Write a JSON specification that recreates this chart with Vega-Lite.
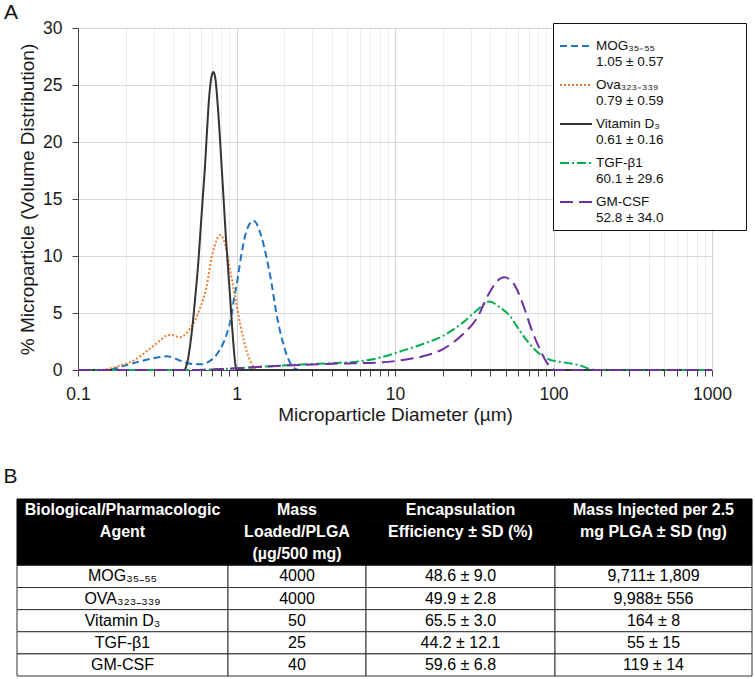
{
  "$schema": "https://vega.github.io/schema/vega-lite/v6.json",
  "padding": {"left": 3, "top": 2, "right": 2, "bottom": 2},
  "background": "white",
  "config": {
    "font": "Liberation Sans",
    "view": {"stroke": null},
    "title": {"font": "Liberation Sans", "fontWeight": "normal", "fontSize": 21, "color": "#111111"}
  },
  "datasets": {
    "psd": [
      {"agent": "MOG", "d": 0.1, "v": 0}, {"agent": "MOG", "d": 0.15, "v": 0}, {"agent": "MOG", "d": 0.17, "v": 0.12},
      {"agent": "MOG", "d": 0.19, "v": 0.32}, {"agent": "MOG", "d": 0.233, "v": 0.67}, {"agent": "MOG", "d": 0.283, "v": 0.96},
      {"agent": "MOG", "d": 0.33, "v": 1.15}, {"agent": "MOG", "d": 0.36, "v": 1.2}, {"agent": "MOG", "d": 0.4, "v": 1.08},
      {"agent": "MOG", "d": 0.44, "v": 0.82}, {"agent": "MOG", "d": 0.53, "v": 0.53}, {"agent": "MOG", "d": 0.6, "v": 0.5},
      {"agent": "MOG", "d": 0.68, "v": 0.8}, {"agent": "MOG", "d": 0.78, "v": 1.7}, {"agent": "MOG", "d": 0.86, "v": 3.0},
      {"agent": "MOG", "d": 0.93, "v": 4.8}, {"agent": "MOG", "d": 0.97, "v": 6.5}, {"agent": "MOG", "d": 1.0, "v": 7.4},
      {"agent": "MOG", "d": 1.07, "v": 10.0}, {"agent": "MOG", "d": 1.15, "v": 12.1}, {"agent": "MOG", "d": 1.28, "v": 13.1},
      {"agent": "MOG", "d": 1.43, "v": 11.8}, {"agent": "MOG", "d": 1.54, "v": 10.0}, {"agent": "MOG", "d": 1.66, "v": 7.7},
      {"agent": "MOG", "d": 1.78, "v": 5.06}, {"agent": "MOG", "d": 1.96, "v": 2.43}, {"agent": "MOG", "d": 2.17, "v": 0.68},
      {"agent": "MOG", "d": 2.35, "v": 0.1}, {"agent": "MOG", "d": 2.5, "v": 0}, {"agent": "MOG", "d": 1000, "v": 0},

      {"agent": "Ova", "d": 0.1, "v": 0}, {"agent": "Ova", "d": 0.14, "v": 0}, {"agent": "Ova", "d": 0.155, "v": 0.1},
      {"agent": "Ova", "d": 0.18, "v": 0.35}, {"agent": "Ova", "d": 0.222, "v": 0.8}, {"agent": "Ova", "d": 0.283, "v": 1.84},
      {"agent": "Ova", "d": 0.33, "v": 2.6}, {"agent": "Ova", "d": 0.36, "v": 3.0}, {"agent": "Ova", "d": 0.39, "v": 3.07},
      {"agent": "Ova", "d": 0.44, "v": 2.87}, {"agent": "Ova", "d": 0.507, "v": 3.6}, {"agent": "Ova", "d": 0.55, "v": 4.4},
      {"agent": "Ova", "d": 0.586, "v": 5.35}, {"agent": "Ova", "d": 0.645, "v": 7.2}, {"agent": "Ova", "d": 0.7, "v": 10.0},
      {"agent": "Ova", "d": 0.75, "v": 11.4}, {"agent": "Ova", "d": 0.79, "v": 11.85}, {"agent": "Ova", "d": 0.853, "v": 10.9},
      {"agent": "Ova", "d": 0.917, "v": 8.57}, {"agent": "Ova", "d": 0.986, "v": 6.23}, {"agent": "Ova", "d": 1.06, "v": 3.89},
      {"agent": "Ova", "d": 1.166, "v": 1.55}, {"agent": "Ova", "d": 1.284, "v": 0.23}, {"agent": "Ova", "d": 1.32, "v": 0},
      {"agent": "Ova", "d": 1000, "v": 0},

      {"agent": "VitD", "d": 0.1, "v": 0}, {"agent": "VitD", "d": 0.467, "v": 0}, {"agent": "VitD", "d": 0.483, "v": 0.38},
      {"agent": "VitD", "d": 0.522, "v": 3.31}, {"agent": "VitD", "d": 0.548, "v": 6.24}, {"agent": "VitD", "d": 0.572, "v": 9.16},
      {"agent": "VitD", "d": 0.592, "v": 12.09}, {"agent": "VitD", "d": 0.612, "v": 15.01}, {"agent": "VitD", "d": 0.633, "v": 17.94},
      {"agent": "VitD", "d": 0.651, "v": 20.87}, {"agent": "VitD", "d": 0.671, "v": 23.79}, {"agent": "VitD", "d": 0.693, "v": 25.6},
      {"agent": "VitD", "d": 0.714, "v": 26.13}, {"agent": "VitD", "d": 0.735, "v": 25.6}, {"agent": "VitD", "d": 0.756, "v": 23.79},
      {"agent": "VitD", "d": 0.782, "v": 20.87}, {"agent": "VitD", "d": 0.805, "v": 17.94}, {"agent": "VitD", "d": 0.829, "v": 15.01},
      {"agent": "VitD", "d": 0.853, "v": 12.09}, {"agent": "VitD", "d": 0.882, "v": 9.16}, {"agent": "VitD", "d": 0.913, "v": 6.24},
      {"agent": "VitD", "d": 0.944, "v": 3.31}, {"agent": "VitD", "d": 0.986, "v": 0.38}, {"agent": "VitD", "d": 1.0, "v": 0},
      {"agent": "VitD", "d": 1000, "v": 0},

      {"agent": "TGF", "d": 0.1, "v": 0}, {"agent": "TGF", "d": 0.5, "v": 0}, {"agent": "TGF", "d": 0.7, "v": 0.05},
      {"agent": "TGF", "d": 1.0, "v": 0.15}, {"agent": "TGF", "d": 1.5, "v": 0.3}, {"agent": "TGF", "d": 2.06, "v": 0.42},
      {"agent": "TGF", "d": 3.0, "v": 0.52}, {"agent": "TGF", "d": 4.06, "v": 0.6}, {"agent": "TGF", "d": 6.0, "v": 0.76},
      {"agent": "TGF", "d": 8.4, "v": 1.15}, {"agent": "TGF", "d": 11.2, "v": 1.7}, {"agent": "TGF", "d": 15.0, "v": 2.28},
      {"agent": "TGF", "d": 20.1, "v": 3.0}, {"agent": "TGF", "d": 26.9, "v": 4.18}, {"agent": "TGF", "d": 32.6, "v": 5.2},
      {"agent": "TGF", "d": 39.5, "v": 6.0}, {"agent": "TGF", "d": 45.7, "v": 5.5}, {"agent": "TGF", "d": 52.9, "v": 4.77},
      {"agent": "TGF", "d": 61.2, "v": 3.45}, {"agent": "TGF", "d": 70.8, "v": 2.28}, {"agent": "TGF", "d": 81.9, "v": 1.4},
      {"agent": "TGF", "d": 94.6, "v": 0.9}, {"agent": "TGF", "d": 109, "v": 0.73}, {"agent": "TGF", "d": 133, "v": 0.53},
      {"agent": "TGF", "d": 153, "v": 0.32}, {"agent": "TGF", "d": 169, "v": 0.09}, {"agent": "TGF", "d": 185, "v": 0},
      {"agent": "TGF", "d": 1000, "v": 0},

      {"agent": "GM", "d": 0.1, "v": 0}, {"agent": "GM", "d": 0.5, "v": 0}, {"agent": "GM", "d": 0.7, "v": 0.05},
      {"agent": "GM", "d": 1.0, "v": 0.15}, {"agent": "GM", "d": 1.5, "v": 0.3}, {"agent": "GM", "d": 2.06, "v": 0.4},
      {"agent": "GM", "d": 3.0, "v": 0.48}, {"agent": "GM", "d": 4.06, "v": 0.55}, {"agent": "GM", "d": 6.0, "v": 0.6},
      {"agent": "GM", "d": 8.4, "v": 0.67}, {"agent": "GM", "d": 11.2, "v": 0.88}, {"agent": "GM", "d": 15.0, "v": 1.2},
      {"agent": "GM", "d": 20.1, "v": 1.84}, {"agent": "GM", "d": 26.9, "v": 3.16}, {"agent": "GM", "d": 32.6, "v": 4.47},
      {"agent": "GM", "d": 39.5, "v": 6.8}, {"agent": "GM", "d": 44.4, "v": 7.84}, {"agent": "GM", "d": 48.8, "v": 8.13},
      {"agent": "GM", "d": 55.3, "v": 7.7}, {"agent": "GM", "d": 64.0, "v": 5.8}, {"agent": "GM", "d": 72.5, "v": 3.6},
      {"agent": "GM", "d": 81.9, "v": 1.84}, {"agent": "GM", "d": 90.5, "v": 0.67}, {"agent": "GM", "d": 94.6, "v": 0.32},
      {"agent": "GM", "d": 99.6, "v": 0.05}, {"agent": "GM", "d": 105, "v": 0}, {"agent": "GM", "d": 1000, "v": 0}
    ],
    "tbl": [
      {"row": "h1", "part": "h", "c1": "Biological/Pharmacologic", "c2": "Mass", "c3": "Encapsulation", "c4": "Mass Injected per 2.5"},
      {"row": "h2", "part": "h", "c1": "Agent", "c2": "Loaded/PLGA", "c3": "Efficiency ± SD (%)", "c4": "mg PLGA ± SD (ng)"},
      {"row": "h3", "part": "h", "c1": "", "c2": "(µg/500 mg)", "c3": "", "c4": ""},
      {"row": "r1", "part": "b", "c1": "MOG₃₅₋₅₅", "c2": "4000", "c3": "48.6 ± 9.0", "c4": "9,711± 1,809"},
      {"row": "r2", "part": "b", "c1": "OVA₃₂₃₋₃₃₉", "c2": "4000", "c3": "49.9 ± 2.8", "c4": "9,988± 556"},
      {"row": "r3", "part": "b", "c1": "Vitamin D₃", "c2": "50", "c3": "65.5 ± 3.0", "c4": "164 ± 8"},
      {"row": "r4", "part": "b", "c1": "TGF-β1", "c2": "25", "c3": "44.2 ± 12.1", "c4": "55 ± 15"},
      {"row": "r5", "part": "b", "c1": "GM-CSF", "c2": "40", "c3": "59.6 ± 6.8", "c4": "119 ± 14"}
    ]
  },
  "spacing": 40,
  "vconcat": [
    {
      "title": {"text": "A", "anchor": "start", "frame": "bounds", "dx": -13, "offset": -4},
      "spacing": 0,
      "align": "each",
      "hconcat": [
        {
          "width": 1, "height": 342,
          "data": {"values": []},
          "mark": {"type": "point", "opacity": 0}
        },
        {
          "width": 634,
          "height": 342,
          "data": {"name": "psd"},
          "mark": {"type": "line", "interpolate": "monotone", "strokeWidth": 2},
          "encoding": {
            "x": {
              "field": "d", "type": "quantitative",
              "scale": {"type": "log", "domain": [0.1, 1000], "nice": false},
              "title": "Microparticle Diameter (µm)",
              "axis": {
                "values": [0.1, 0.2, 0.3, 0.4, 0.5, 0.6, 0.7, 0.8, 0.9, 1, 2, 3, 4, 5, 6, 7, 8, 9, 10, 20, 30, 40, 50, 60, 70, 80, 90, 100, 200, 300, 400, 500, 600, 700, 800, 900, 1000],
                "format": "~g",
                "labelExpr": "indexof([0.1, 1, 10, 100, 1000], datum.value) >= 0 ? datum.label : ''",
                "labelFlush": false, "labelOverlap": false, "labelBound": false,
                "grid": true,
                "gridColor": {"condition": {"test": "indexof([0.1, 1, 10, 100, 1000], datum.value) >= 0", "value": "#d4d4d4"}, "value": "#ececec"},
                "tickSize": 6, "tickColor": "#404040", "domainColor": "#404040",
                "labelFontSize": 17.5, "labelColor": "#1a1a1a", "labelPadding": 9,
                "titleFontSize": 19, "titleFontWeight": "normal", "titleColor": "#1a1a1a", "titlePadding": 3
              }
            },
            "y": {
              "field": "v", "type": "quantitative",
              "scale": {"domain": [0, 30], "nice": false},
              "title": "% Microparticle (Volume Distribution)",
              "axis": {
                "values": [0, 5, 10, 15, 20, 25, 30],
                "labelFlush": false,
                "grid": true, "gridColor": "#d9d9d9",
                "tickSize": 6, "tickColor": "#404040", "domainColor": "#404040",
                "labelFontSize": 17.5, "labelColor": "#1a1a1a", "labelPadding": 10,
                "titleFontSize": 19, "titleFontWeight": "normal", "titleColor": "#1a1a1a", "titlePadding": 5
              }
            },
            "color": {
              "field": "agent", "type": "nominal",
              "scale": {"domain": ["MOG", "Ova", "VitD", "TGF", "GM"], "range": ["#1f74c4", "#ed7d31", "#333333", "#00b050", "#7030a0"]},
              "legend": {
                "title": null, "orient": "none", "legendX": 536, "legendY": -5,
                "symbolType": "stroke", "symbolSize": 1024, "symbolStrokeWidth": 2,
                "labelExpr": "datum.label == 'MOG' ? ['MOG₃₅₋₅₅', '1.05 ± 0.57'] : datum.label == 'Ova' ? ['Ova₃₂₃₋₃₃₉\u2003\u2003\u2003\u2003\u2003\u2003\u200b', '0.79 ± 0.59'] : datum.label == 'VitD' ? ['Vitamin D₃', '0.61 ± 0.16'] : datum.label == 'TGF' ? ['TGF-β1', '60.1 ± 29.6'] : ['GM-CSF', '52.8 ± 34.0']",
                "labelFontSize": 13.5, "labelColor": "#111111", "labelLimit": 300, "labelOffset": 3,
                "rowPadding": 0, "padding": 6, "strokeColor": "#111111", "fillColor": "white"
              }
            },
            "strokeDash": {
              "field": "agent", "type": "nominal",
              "scale": {"domain": ["MOG", "Ova", "VitD", "TGF", "GM"], "range": [[7, 4], [2, 2], [1, 0], [9, 3, 2, 3], [13, 6]]},
              "legend": {
                "title": null, "orient": "none", "legendX": 536, "legendY": -5,
                "symbolType": "stroke", "symbolSize": 1024, "symbolStrokeWidth": 2,
                "labelExpr": "datum.label == 'MOG' ? ['MOG₃₅₋₅₅', '1.05 ± 0.57'] : datum.label == 'Ova' ? ['Ova₃₂₃₋₃₃₉\u2003\u2003\u2003\u2003\u2003\u2003\u200b', '0.79 ± 0.59'] : datum.label == 'VitD' ? ['Vitamin D₃', '0.61 ± 0.16'] : datum.label == 'TGF' ? ['TGF-β1', '60.1 ± 29.6'] : ['GM-CSF', '52.8 ± 34.0']",
                "labelFontSize": 13.5, "labelColor": "#111111", "labelLimit": 300, "labelOffset": 3,
                "rowPadding": 0, "padding": 6, "strokeColor": "#111111", "fillColor": "white"
              }
            }
          }
        }
      ]
    },
    {
      "title": {"text": "B", "anchor": "start", "frame": "bounds", "dx": -13, "offset": 12},
      "spacing": 0,
      "bounds": "flush",
      "hconcat": [
        {
          "width": 211, "height": 177, "data": {"name": "tbl"},
          "encoding": {"y": {"field": "row", "type": "ordinal", "scale": {"type": "band", "domain": ["h1", "h2", "h3", "r1", "r2", "r3", "r4", "r5"], "paddingInner": 0, "paddingOuter": 0}, "axis": null}},
          "layer": [
            {"transform": [{"filter": "datum.part == 'h'"}], "mark": {"type": "rect", "fill": "black", "stroke": "black"}, "encoding": {"x": {"value": 0}, "x2": {"value": "width"}}},
            {"transform": [{"filter": "datum.part == 'b'"}], "mark": {"type": "rect", "fill": "white", "stroke": "#333333", "strokeWidth": 1}, "encoding": {"x": {"value": 0}, "x2": {"value": "width"}}},
            {"transform": [{"filter": "datum.part == 'h'"}], "mark": {"type": "text", "fontSize": 16, "fontWeight": "bold", "fill": "white"}, "encoding": {"text": {"field": "c1"}}},
            {"transform": [{"filter": "datum.part == 'b'"}], "mark": {"type": "text", "fontSize": 16, "fill": "black"}, "encoding": {"text": {"field": "c1"}}}
          ]
        },
        {
          "width": 138, "height": 177, "data": {"name": "tbl"},
          "encoding": {"y": {"field": "row", "type": "ordinal", "scale": {"type": "band", "domain": ["h1", "h2", "h3", "r1", "r2", "r3", "r4", "r5"], "paddingInner": 0, "paddingOuter": 0}, "axis": null}},
          "layer": [
            {"transform": [{"filter": "datum.part == 'h'"}], "mark": {"type": "rect", "fill": "black", "stroke": "black"}, "encoding": {"x": {"value": 0}, "x2": {"value": "width"}}},
            {"transform": [{"filter": "datum.part == 'b'"}], "mark": {"type": "rect", "fill": "white", "stroke": "#333333", "strokeWidth": 1}, "encoding": {"x": {"value": 0}, "x2": {"value": "width"}}},
            {"transform": [{"filter": "datum.part == 'h'"}], "mark": {"type": "text", "fontSize": 16, "fontWeight": "bold", "fill": "white"}, "encoding": {"text": {"field": "c2"}}},
            {"transform": [{"filter": "datum.part == 'b'"}], "mark": {"type": "text", "fontSize": 16, "fill": "black"}, "encoding": {"text": {"field": "c2"}}}
          ]
        },
        {
          "width": 189, "height": 177, "data": {"name": "tbl"},
          "encoding": {"y": {"field": "row", "type": "ordinal", "scale": {"type": "band", "domain": ["h1", "h2", "h3", "r1", "r2", "r3", "r4", "r5"], "paddingInner": 0, "paddingOuter": 0}, "axis": null}},
          "layer": [
            {"transform": [{"filter": "datum.part == 'h'"}], "mark": {"type": "rect", "fill": "black", "stroke": "black"}, "encoding": {"x": {"value": 0}, "x2": {"value": "width"}}},
            {"transform": [{"filter": "datum.part == 'b'"}], "mark": {"type": "rect", "fill": "white", "stroke": "#333333", "strokeWidth": 1}, "encoding": {"x": {"value": 0}, "x2": {"value": "width"}}},
            {"transform": [{"filter": "datum.part == 'h'"}], "mark": {"type": "text", "fontSize": 16, "fontWeight": "bold", "fill": "white"}, "encoding": {"text": {"field": "c3"}}},
            {"transform": [{"filter": "datum.part == 'b'"}], "mark": {"type": "text", "fontSize": 16, "fill": "black"}, "encoding": {"text": {"field": "c3"}}}
          ]
        },
        {
          "width": 197, "height": 177, "data": {"name": "tbl"},
          "encoding": {"y": {"field": "row", "type": "ordinal", "scale": {"type": "band", "domain": ["h1", "h2", "h3", "r1", "r2", "r3", "r4", "r5"], "paddingInner": 0, "paddingOuter": 0}, "axis": null}},
          "layer": [
            {"transform": [{"filter": "datum.part == 'h'"}], "mark": {"type": "rect", "fill": "black", "stroke": "black"}, "encoding": {"x": {"value": 0}, "x2": {"value": "width"}}},
            {"transform": [{"filter": "datum.part == 'b'"}], "mark": {"type": "rect", "fill": "white", "stroke": "#333333", "strokeWidth": 1}, "encoding": {"x": {"value": 0}, "x2": {"value": "width"}}},
            {"transform": [{"filter": "datum.part == 'h'"}], "mark": {"type": "text", "fontSize": 16, "fontWeight": "bold", "fill": "white"}, "encoding": {"text": {"field": "c4"}}},
            {"transform": [{"filter": "datum.part == 'b'"}], "mark": {"type": "text", "fontSize": 16, "fill": "black"}, "encoding": {"text": {"field": "c4"}}}
          ]
        }
      ]
    }
  ]
}
